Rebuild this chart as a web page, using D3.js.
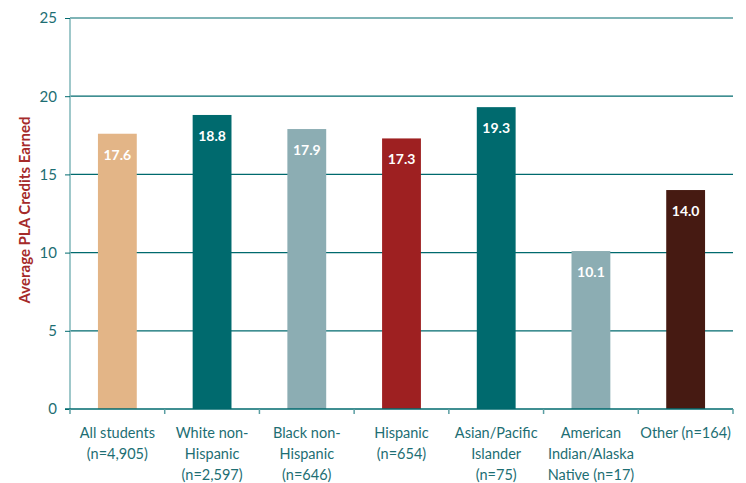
<!DOCTYPE html>
<html><head><meta charset="utf-8">
<script src="https://cdn.jsdelivr.net/npm/d3@7"></script>
<style>body{margin:0;background:#fff}svg{display:block}</style>
</head><body>
<svg id="c" width="746" height="483"></svg>
<script>
const categories = [
  ["All students", "(n=4,905)"],
  ["White non-", "Hispanic", "(n=2,597)"],
  ["Black non-", "Hispanic", "(n=646)"],
  ["Hispanic", "(n=654)"],
  ["Asian/Pacific", "Islander", "(n=75)"],
  ["American", "Indian/Alaska", "Native (n=17)"],
  ["Other (n=164)"]
];
const values = [17.6, 18.8, 17.9, 17.3, 19.3, 10.1, 14.0];
const colors = ["#e3b587", "#006a6e", "#8cadb3", "#9e2021", "#006a6e", "#8cadb3", "#461a12"];
const yTicks = [0, 5, 10, 15, 20, 25];
const yTitle = "Average PLA Credits Earned";

const svg = d3.select("#c");
const m = {l: 70, r: 13, t: 18, b: 74};
const W = 746, H = 483;
const x = d3.scaleBand().domain(d3.range(values.length)).range([m.l, W - m.r]).paddingInner(0.59).paddingOuter(0.295);
const y = d3.scaleLinear().domain([0, 25]).range([H - m.b, m.t]);
const font = "Lato, 'Open Sans', sans-serif";
const teal = "#1d6e73";

// gridlines
svg.append("g").selectAll("line").data(yTicks.filter(d => d > 0)).join("line")
  .attr("x1", m.l).attr("x2", W - m.r).attr("y1", d => y(d)).attr("y2", d => y(d))
  .attr("stroke", "#006a6e").attr("stroke-width", 1.2);

// y axis
const ya = svg.append("g").attr("transform", `translate(${m.l},0)`)
  .call(d3.axisLeft(y).tickValues(yTicks).tickSize(5).tickPadding(8));
ya.select(".domain").attr("stroke", "#7fb6b8").attr("stroke-width", 1.5).attr("d", `M0,${y(0)}V${y(25)}`);
ya.selectAll(".tick line").attr("stroke", "#006a6e");
ya.selectAll("text").attr("fill", teal).attr("font-family", font).attr("font-size", 15);

// bars
svg.append("g").selectAll("rect").data(values).join("rect")
  .attr("x", (d, i) => x(i)).attr("width", x.bandwidth())
  .attr("y", d => y(d)).attr("height", d => y(0) - y(d))
  .attr("fill", (d, i) => colors[i]);

// value labels
svg.append("g").selectAll("text").data(values).join("text")
  .attr("x", (d, i) => x(i) + x.bandwidth() / 2).attr("y", d => y(d) + 26)
  .attr("text-anchor", "middle").attr("fill", "#fff").attr("font-weight", "bold")
  .attr("font-family", font).attr("font-size", 14).text(d => d.toFixed(1));

// x axis
const xb = d3.scaleLinear().domain([0, values.length]).range([m.l, W - m.r]);
svg.append("line").attr("x1", m.l - 5).attr("x2", W - m.r).attr("y1", y(0)).attr("y2", y(0))
  .attr("stroke", "#006a6e").attr("stroke-width", 1.5);
svg.append("g").selectAll("line").data(d3.range(values.length + 1)).join("line")
  .attr("x1", d => xb(d)).attr("x2", d => xb(d)).attr("y1", y(0)).attr("y2", y(0) + 5)
  .attr("stroke", "#5a9ea2").attr("stroke-width", 1.5);

const xl = svg.append("g").selectAll("text").data(categories).join("text")
  .attr("x", (d, i) => x(i) + x.bandwidth() / 2).attr("y", y(0) + 29)
  .attr("text-anchor", "middle").attr("fill", teal).attr("font-family", font).attr("font-size", 14.5);
xl.each(function(d, i) {
  const t = d3.select(this);
  d.forEach((s, k) => t.append("tspan").attr("x", x(i) + x.bandwidth() / 2).attr("dy", k === 0 ? 0 : 21).text(s));
});

// y title
svg.append("text").attr("transform", `translate(30,210) rotate(-90)`)
  .attr("text-anchor", "middle").attr("fill", "#a52a2a").attr("font-weight", "bold")
  .attr("font-family", font).attr("font-size", 15).text(yTitle);
</script>
</body></html>
